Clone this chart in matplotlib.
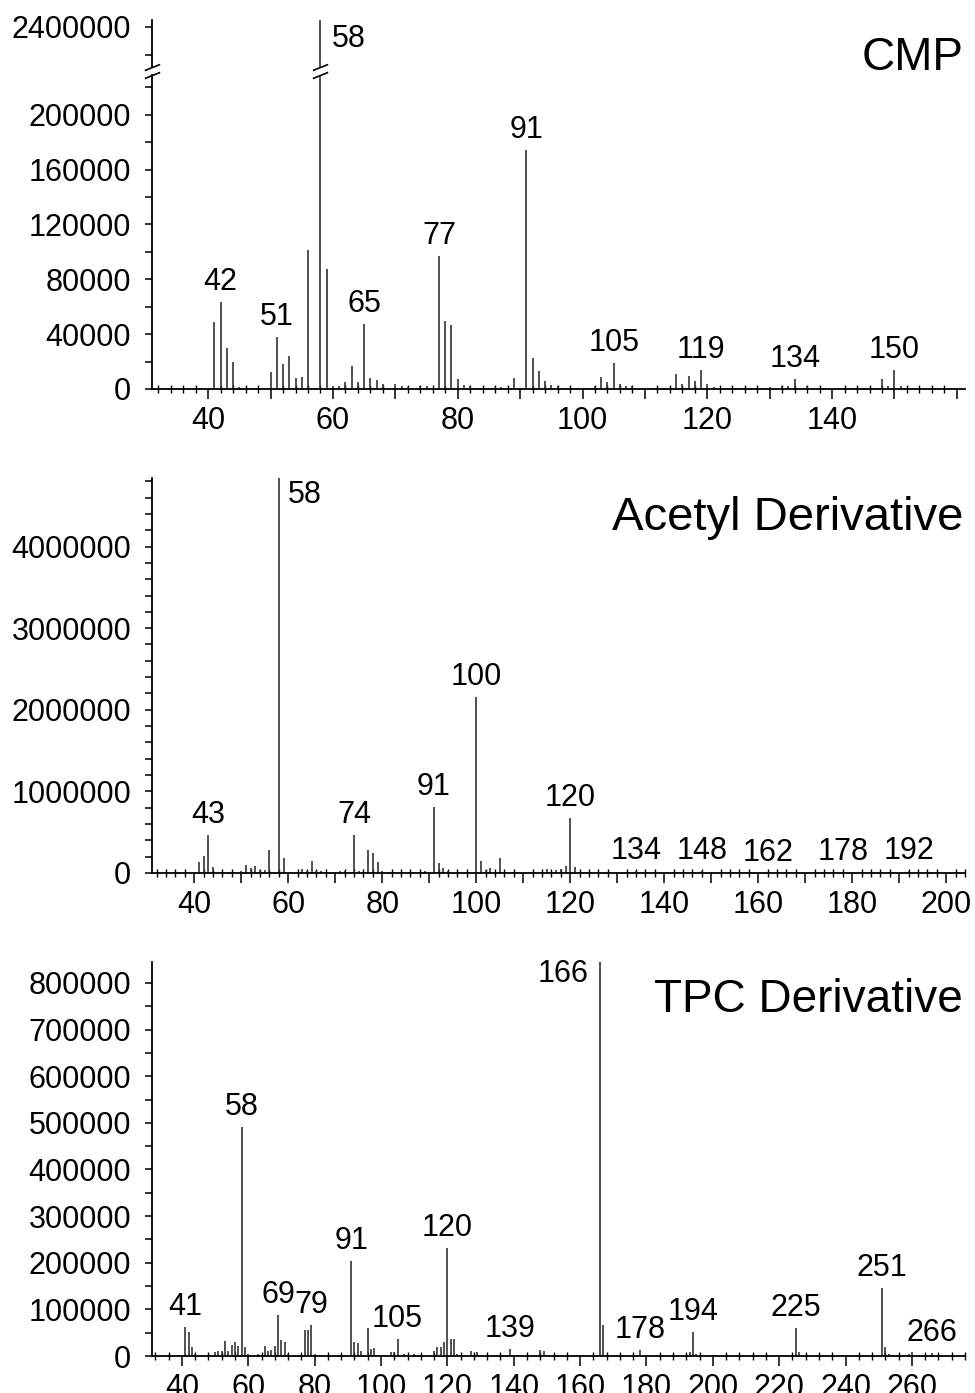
import matplotlib
matplotlib.use('Agg')
import matplotlib.pyplot as plt
from matplotlib.ticker import MultipleLocator, FuncFormatter
import matplotlib.transforms as mtransforms

plt.rcParams['font.family'] = ['Liberation Sans', 'DejaVu Sans']

# ---------------- data ----------------
cmp_mz = [41, 42, 43, 44, 45, 48, 50, 51, 52, 53, 54, 55, 56, 58, 59, 60, 61, 62, 63, 64,
          65, 66, 67, 68, 70, 71, 72, 74, 75, 77, 78, 79, 80, 81, 82, 86, 87, 89, 91, 92,
          93, 94, 95, 96, 102, 103, 104, 105, 106, 107, 108, 115, 116, 117, 118, 119, 120,
          121, 130, 132, 133, 134, 136, 148, 149, 150, 151]
cmp_int = [49000, 63500, 30000, 20000, 1500, 1000, 12400, 38000, 18500, 24000, 8000, 9000,
           101500, 2410000, 87500, 2500, 2500, 5000, 17000, 5000,
           47500, 8000, 6500, 3500, 4000, 2500, 1500, 2500, 2500, 97000, 49500, 47000, 7000,
           3000, 2500, 1500, 1500, 8000, 174500, 22500,
           13000, 6000, 3000, 2000, 2000, 9000, 5000, 19000, 3500, 2500, 2500, 11000, 3500,
           9500, 6000, 14000, 4000,
           1500, 1500, 2500, 2500, 7500, 2000, 7000, 2000, 13500, 2500]
cmp_labels = [42, 51, 65, 77, 91, 105, 119, 134, 150]

acetyl_mz = [41, 42, 43, 44, 50, 51, 52, 53, 54, 55, 56, 58, 59, 63, 64, 65, 66, 67, 71, 72,
             74, 75, 77, 78, 79, 80, 89, 91, 92, 93, 94, 100, 101, 102, 103, 105, 115, 117,
             118, 119, 120, 121, 134, 148, 162, 178, 192]
acetyl_int = [135000, 208000, 465000, 73000, 30000, 98000, 60000, 80000, 40000, 40000,
              282000, 5000000, 184000, 50000, 30000, 147000, 30000, 20000, 20000, 20000,
              465000, 30000, 280000, 245000, 135000, 20000, 30000, 808000, 120000, 60000,
              20000, 2154000, 147000, 40000, 60000, 184000, 50000, 40000,
              50000, 85000, 673000, 70000, 20000, 25000, 5000, 12000, 30000]
acetyl_labels = [43, 74, 91, 100, 120, 134, 148, 162, 178, 192]

tpc_mz = [41, 42, 43, 44, 50, 51, 52, 53, 54, 55, 56, 57, 58, 59, 60, 63, 65, 66, 67, 68,
          69, 70, 71, 72, 77, 78, 79, 80, 91, 92, 93, 94, 96, 97, 98, 103, 104, 105, 107,
          110, 116, 117, 118, 119, 120, 121, 122, 123, 127, 129, 139, 148, 149, 166, 167,
          178, 193, 194, 195, 225, 226, 251, 252, 253, 259, 260, 266]
tpc_int = [62000, 51000, 19000, 5000, 8000, 10000, 10000, 32000, 10000, 23000, 30000, 22000,
           491000, 20000, 5000, 5000, 22000, 10000, 12000, 22000,
           88000, 34000, 30000, 5000, 56000, 56000, 66000, 5000, 204000, 30000, 27000, 10000,
           60000, 15000, 18000, 8000, 8000, 36000, 5000,
           5000, 10000, 20000, 20000, 30000, 232000, 36000, 36000, 5000, 10000, 8000, 15000,
           12000, 10000, 900000, 66000,
           12000, 8000, 52000, 5000, 60000, 8000, 146000, 20000, 5000, 5000, 8000, 6000]
tpc_labels = [41, 58, 69, 79, 91, 105, 120, 139, 178, 194, 225, 251, 266]

titles = ['CMP', 'Acetyl Derivative', 'TPC Derivative']

# ---------------- style ----------------
PEAK = '#333333'
TICK_FS = 22
LAB_FS = 22
W, H = 975, 1393
fig = plt.figure(figsize=(W / 100, H / 100), dpi=100)


def px_axes(left, top, right, bottom):
    return fig.add_axes([left / W, 1 - bottom / H, (right - left) / W, (bottom - top) / H])


def style(ax, bottom=True):
    for s in ['top', 'right']:
        ax.spines[s].set_visible(False)
    ax.spines['left'].set_linewidth(1.3)
    ax.spines['bottom'].set_linewidth(1.3)
    if not bottom:
        ax.spines['bottom'].set_visible(False)
    ax.tick_params(axis='y', which='both', direction='out', length=5, width=1.1,
                   labelsize=TICK_FS, pad=10)
    ax.tick_params(axis='x', which='major', direction='out', length=7, width=1.1,
                   labelsize=TICK_FS, pad=5)
    ax.tick_params(axis='x', which='minor', direction='inout', length=6, width=1.0)


def label_every(step):
    return FuncFormatter(lambda v, p: '%d' % round(v) if round(v) % step == 0 else '')


def peak_labels(ax, mz, inten, labels, fs=LAB_FS):
    for m in labels:
        i = inten[mz.index(m)]
        ax.annotate(str(m), xy=(m, i), xytext=(0, 12), textcoords='offset pixels',
                    ha='center', va='baseline', fontsize=fs)


# ---------------- panel 1 : CMP (broken axis) ----------------
ax1u = px_axes(152, 20, 965, 67)
ax1l = px_axes(152, 75, 965, 389)
for ax in (ax1u, ax1l):
    ax.vlines(cmp_mz, 0, cmp_int, colors=PEAK, lw=1.2)
    ax.set_xlim(31, 161.3)
style(ax1l)
style(ax1u, bottom=False)
ax1l.set_ylim(0, 229000)
ax1u.set_ylim(2371000, 2405000)
ax1l.yaxis.set_major_locator(MultipleLocator(40000))
ax1l.yaxis.set_minor_locator(MultipleLocator(20000))
ax1u.set_yticks([2400000])
ax1u.set_yticks([2380000], minor=True)
ax1u.set_yticklabels(['2400000'])
ax1u.set_xticks([])
ax1u.tick_params(axis='x', which='both', bottom=False, labelbottom=False)
ax1l.xaxis.set_major_locator(MultipleLocator(10))
ax1l.xaxis.set_minor_locator(MultipleLocator(2))
ax1l.xaxis.set_major_formatter(FuncFormatter(
    lambda v, p: '%d' % round(v) if round(v) % 20 == 0 and round(v) <= 140 else ''))
peak_labels(ax1l, cmp_mz, cmp_int, cmp_labels)
ax1u.annotate('58', xy=(58, 2405000), xytext=(11, -27), textcoords='offset pixels',
              ha='left', va='baseline', fontsize=LAB_FS)

# break marks
bk = dict(marker=[(-1, -0.4), (1, 0.4)], markersize=11, linestyle='none',
          color='k', mec='k', mew=1.2, clip_on=False)
ax1l.plot([0], [1], transform=ax1l.transAxes, **bk)
ax1u.plot([0], [0], transform=ax1u.transAxes, **bk)
ax1l.plot([58], [1], transform=mtransforms.blended_transform_factory(ax1l.transData, ax1l.transAxes), **bk)
ax1u.plot([58], [0], transform=mtransforms.blended_transform_factory(ax1u.transData, ax1u.transAxes), **bk)

# ---------------- panel 2 : Acetyl ----------------
ax2 = px_axes(152, 478, 965, 873)
ax2.vlines(acetyl_mz, 0, acetyl_int, colors=PEAK, lw=1.2)
style(ax2)
ax2.set_xlim(31, 204)
ax2.set_ylim(0, 4840000)
ax2.yaxis.set_major_locator(MultipleLocator(1000000))
ax2.yaxis.set_minor_locator(MultipleLocator(200000))
ax2.yaxis.set_major_formatter(FuncFormatter(lambda v, p: '%d' % v))
ax2.xaxis.set_major_locator(MultipleLocator(10))
ax2.xaxis.set_minor_locator(MultipleLocator(2))
ax2.xaxis.set_major_formatter(label_every(20))
peak_labels(ax2, acetyl_mz, acetyl_int, acetyl_labels)
ax2.annotate('58', xy=(58, 4840000), xytext=(9, -25), textcoords='offset pixels',
             ha='left', va='baseline', fontsize=LAB_FS)

# ---------------- panel 3 : TPC ----------------
ax3 = px_axes(152, 962, 965, 1356)
ax3.vlines(tpc_mz, 0, tpc_int, colors=PEAK, lw=1.2)
style(ax3)
ax3.set_xlim(31, 276)
ax3.set_ylim(0, 845000)
ax3.yaxis.set_major_locator(MultipleLocator(100000))
ax3.yaxis.set_minor_locator(MultipleLocator(50000))
ax3.yaxis.set_major_formatter(FuncFormatter(lambda v, p: '%d' % v))
ax3.xaxis.set_major_locator(MultipleLocator(20))
ax3.xaxis.set_minor_locator(MultipleLocator(4))
ax3.xaxis.set_major_formatter(FuncFormatter(lambda v, p: '%d' % v))
peak_labels(ax3, tpc_mz, tpc_int, tpc_labels)
ax3.annotate('166', xy=(166, 845000), xytext=(-11, -20), textcoords='offset pixels',
             ha='right', va='baseline', fontsize=LAB_FS)

for ax in (ax1l, ax1u):
    ax.yaxis.set_major_formatter(FuncFormatter(lambda v, p: '%d' % v))

# ---------------- titles ----------------
fig.text(963 / W, 1 - 70 / H, titles[0], ha='right', va='baseline', fontsize=33)
fig.text(963 / W, 1 - 530 / H, titles[1], ha='right', va='baseline', fontsize=34)
fig.text(963 / W, 1 - 1012 / H, titles[2], ha='right', va='baseline', fontsize=33)

fig.savefig('out.png', dpi=100)
